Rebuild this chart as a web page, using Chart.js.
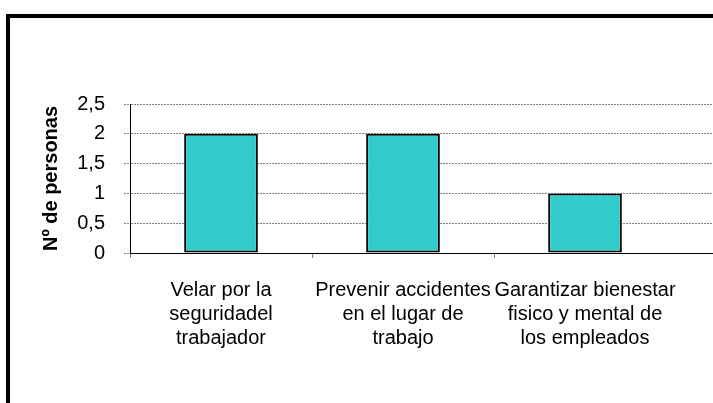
<!DOCTYPE html>
<html>
<head>
<meta charset="utf-8">
<script src="https://cdn.jsdelivr.net/npm/chart.js@4"></script>
<style>
  html, body { margin: 0; padding: 0; background: #fff; overflow: hidden; width: 713px; height: 403px; }
  #frame { position: absolute; left: 6px; top: 14px; width: 900px; height: 500px; border: 4px solid #000; }
  #chart { position: absolute; left: 0; top: 0; }
</style>
</head>
<body>
<div id="frame"></div>
<canvas id="chart" width="900" height="420"></canvas>
<script>
// data
const categories = [
    ['Velar por la', 'seguridadel', 'trabajador'],
    ['Prevenir accidentes', 'en el lugar de', 'trabajo'],
    ['Garantizar bienestar', 'fisico y mental de', 'los empleados']
];
const personas = [2, 2, 1];
const yTicks = [0, 0.5, 1, 1.5, 2, 2.5];
const yTitle = 'Nº de personas';

// the plot area runs on past the right edge of the picture, so an empty slot is added
const labels = [...categories, ''];
const values = [...personas, null];

const FONT = "'Liberation Sans', Arial, sans-serif";
const GRID = '#808080';

const ctx = document.getElementById('chart').getContext('2d');
const chart = new Chart(ctx, {
    type: 'bar',
    data: {
        labels: labels,
        datasets: [{
            data: values,
            backgroundColor: '#33CCCC',
            borderColor: '#000',
            borderWidth: 2,
            borderSkipped: false,
            barPercentage: 0.405,
            categoryPercentage: 1
        }]
    },
    options: {
        responsive: false,
        animation: false,
        devicePixelRatio: 1,
        layout: { padding: { left: 35, top: 104, right: 42, bottom: 67 } },
        plugins: { legend: { display: false }, tooltip: { enabled: false } },
        scales: {
            x: {
                offset: true,
                grid: {
                    offset: true,
                    drawOnChartArea: false,
                    drawTicks: true,
                    tickLength: 5,
                    tickColor: c => (c.index === undefined || c.index >= 3) ? 'transparent' : GRID
                },
                border: { display: true, color: '#000', width: 1 },
                ticks: {
                    color: '#000',
                    padding: 20,
                    maxRotation: 0,
                    autoSkip: false,
                    font: { family: FONT, size: 20, lineHeight: 1.2 }
                },
                afterFit: s => { s.height = 100; }
            },
            y: {
                min: 0,
                max: 2.5,
                afterBuildTicks: s => { s.ticks = yTicks.map(v => ({ value: v })); },
                grid: {
                    color: c => (c.tick && c.tick.value === 0) ? 'transparent' : GRID,
                    tickColor: GRID,
                    tickLength: 6,
                    tickBorderDash: [2, 1],
                    lineWidth: 1
                },
                // in v4 border.dash sets the dash of the grid lines, the axis line stays solid
                border: { display: true, color: '#000', width: 1, dash: [2, 1] },
                ticks: {
                    color: '#000',
                    padding: 19,
                    font: { family: FONT, size: 20 },
                    callback: v => String(v).replace('.', ',')
                },
                title: {
                    display: true,
                    text: yTitle,
                    color: '#000',
                    padding: { top: 4, bottom: 4 },
                    font: { family: FONT, size: 20, weight: 'bold', lineHeight: 1.2 }
                },
                afterFit: s => { s.width = 95; }
            }
        }
    }
});
</script>
</body>
</html>
